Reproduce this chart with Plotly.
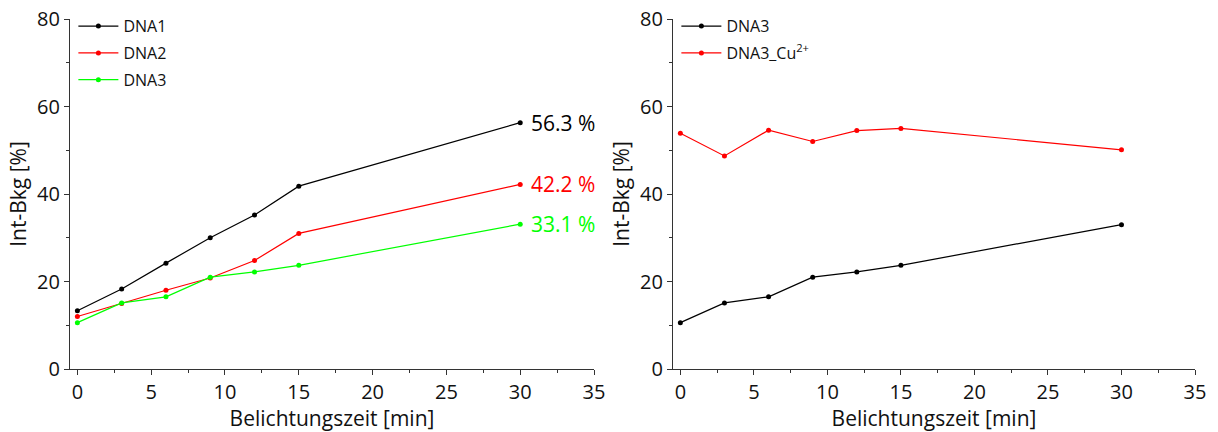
import plotly.graph_objects as go
from plotly.subplots import make_subplots

time_min = [0, 3, 6, 9, 12, 15, 30]
dna1 = [13.3, 18.3, 24.2, 30.0, 35.2, 41.8, 56.3]
dna2 = [12.0, 15.0, 18.0, 20.8, 24.8, 31.0, 42.2]
dna3 = [10.6, 15.1, 16.5, 21.0, 22.2, 23.7, 33.1]
dna3_right = [10.6, 15.1, 16.5, 21.0, 22.2, 23.7, 33.0]
dna3_cu = [53.9, 48.7, 54.6, 52.0, 54.5, 55.0, 50.1]
end_labels = ["56.3 %", "42.2 %", "33.1 %"]

FONT = "Open Sans"
BLACK = "#000000"
RED = "#ff0000"
GREEN = "#00ff00"

fig = make_subplots(rows=1, cols=2, horizontal_spacing=0.07)

def add_line(x, y, name, color, col, legend, group):
    fig.add_trace(go.Scatter(x=x, y=y, mode="lines+markers", name=name,
                             line=dict(color=color, width=1.2),
                             marker=dict(color=color, size=5),
                             legend=legend, legendgroup=group), row=1, col=col)

add_line(time_min, dna1, "DNA1", BLACK, 1, "legend", "a")
add_line(time_min, dna2, "DNA2", RED, 1, "legend", "b")
add_line(time_min, dna3, "DNA3", GREEN, 1, "legend", "c")
add_line(time_min, dna3_right, "DNA3", BLACK, 2, "legend2", "d")
add_line(time_min, dna3_cu, "DNA3_Cu<sup>2+</sup>", RED, 2, "legend2", "e")

for series, lab, color in zip([dna1, dna2, dna3], end_labels, [BLACK, RED, GREEN]):
    fig.add_annotation(x=time_min[-1], y=series[-1], text=lab, showarrow=False,
                       xref="x", yref="y", xanchor="left", yanchor="middle",
                       xshift=9, font=dict(family=FONT, size=21, color=color))

axis_common = dict(showline=True, linecolor="#333333", linewidth=1.3,
                   ticks="outside", ticklen=5, tickcolor="#333333",
                   showgrid=False, zeroline=False, automargin=False,
                   tickfont=dict(family=FONT, size=20, color="#111111"))

for c in (1, 2):
    fig.update_xaxes(range=[-0.5, 35], dtick=5, tick0=0,
                     minor=dict(ticks="outside", dtick=2.5, ticklen=3, tickcolor="#333333"),
                     title=dict(text="Belichtungszeit [min]", font=dict(family=FONT, size=21, color="#111111"), standoff=4),
                     **axis_common, row=1, col=c)
    fig.update_yaxes(range=[0, 80], dtick=20, tick0=0,
                     minor=dict(ticks="outside", dtick=10, ticklen=3, tickcolor="#333333"),
                     title=dict(text="Int-Bkg [%]", font=dict(family=FONT, size=21, color="#111111"), standoff=4),
                     **axis_common, row=1, col=c)

fig.update_xaxes(domain=[0, 0.4658], row=1, col=1)
fig.update_xaxes(domain=[0.536, 1], row=1, col=2)

legend_style = dict(bgcolor="rgba(0,0,0,0)", font=dict(family=FONT, size=16, color="#111111"),
                    tracegroupgap=3, itemwidth=40, yanchor="top", xanchor="left")

fig.update_layout(
    width=1218, height=432,
    margin=dict(l=70, r=23, t=19, b=63, autoexpand=False),
    plot_bgcolor="white", paper_bgcolor="white",
    legend=dict(x=0.003, y=1.028, **legend_style),
    legend2=dict(x=0.539, y=1.028, **legend_style),
)

fig.write_html("out.html")
